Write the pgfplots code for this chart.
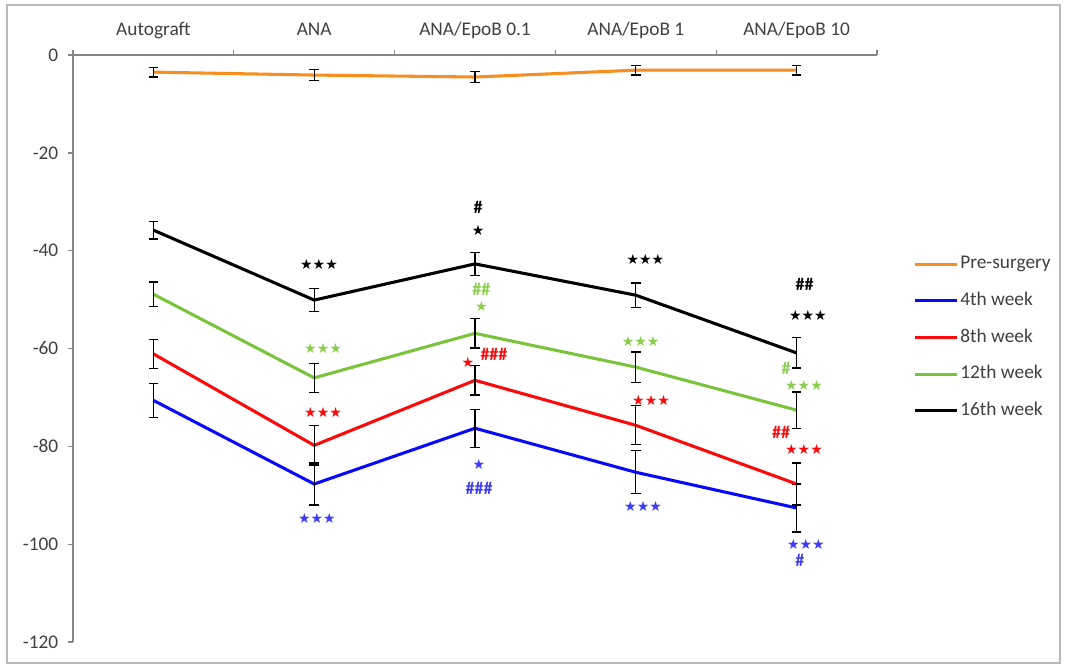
\documentclass[border=0pt]{standalone}
\usepackage{pgfplots}
\pgfplotsset{compat=1.18}
\usepackage{fontspec}
\setmainfont{Carlito}
\newfontfamily\symfont{DejaVu Sans}

\definecolor{preorange}{RGB}{247,142,30}
\definecolor{wkblue}{RGB}{10,10,250}
\definecolor{wkred}{RGB}{250,10,10}
\definecolor{wkgreen}{RGB}{122,196,60}
\definecolor{lblgreen}{RGB}{140,205,80}
\definecolor{lblblue}{RGB}{60,60,250}
\definecolor{axgray}{RGB}{134,134,134}
\definecolor{txtgray}{RGB}{64,64,64}

% significance marks
\newcommand{\stars}[1]{{\symfont\fontsize{10.5}{12}\selectfont #1}}
\newcommand{\hashes}[1]{{\bfseries\fontsize{13.5}{15}\selectfont #1}}

\begin{document}
\begin{tikzpicture}
\useasboundingbox (0pt,0pt) rectangle (798.75pt,-498.75pt);
\draw[gray!55, line width=1.3pt] (5.25pt,-3.75pt) rectangle (795pt,-497.25pt);
\begin{axis}[
  at={(54.75pt,-41.25pt)}, anchor=north west,
  scale only axis, width=603pt, height=440.25pt,
  xmin=-0.5, xmax=4.5, ymin=-120, ymax=0,
  axis x line*=top, axis y line*=left,
  axis line style={draw=axgray, line width=1.1pt},
  tick align=outside,
  major tick length=3.5pt,
  tick style={draw=axgray, line width=1pt},
  xtick={-0.5,0.5,1.5,2.5,3.5,4.5},
  xticklabels={Autograft,ANA,ANA/EpoB 0.1,ANA/EpoB 1,ANA/EpoB 10,{}},
  xticklabel style={anchor=base, xshift=60.3pt, yshift=11pt, font=\fontsize{14.5}{16}\selectfont, text=txtgray},
  ytick={-120,-100,-80,-60,-40,-20,0},
  yticklabels={-120,-100,-80,-60,-40,-20,0},
  yticklabel style={xshift=-4pt, font=\fontsize{14.5}{16}\selectfont, text=txtgray},
  legend style={draw=none, fill=none, at={(1.0448,0.5186)}, anchor=west,
    inner sep=0pt, row sep=11.5pt,
    font=\fontsize{14.5}{16}\selectfont, text=txtgray,
    nodes={inner sep=1.5pt, text height=10pt, text depth=3pt}},
  legend cell align=left,
  legend image code/.code={\draw[#1, line width=2.3pt] (0pt,0pt) -- (31.5pt,0pt);},
  clip=false,
]
% error bars with short horizontal caps
\pgfplotsset{errstyle/.style={mark=none,
  error bars/.cd, y dir=both, y explicit, error mark=|,
  error bar style={black, line width=0.9pt},
  error mark options={black, mark size=3.6pt, line width=0.9pt}}}

\addplot[preorange, line width=2.3pt, errstyle] table[x=x, y=y, y error=e] {
x y e
0 -3.5 1.0
1 -4.1 1.1
2 -4.5 1.1
3 -3.1 1.0
4 -3.1 1.0
};
\addlegendentry{Pre-surgery}

\addplot[wkblue, line width=2.3pt, errstyle] table[x=x, y=y, y error=e] {
x y e
0 -70.6 3.5
1 -87.7 4.3
2 -76.3 3.9
3 -85.3 4.4
4 -92.6 4.9
};
\addlegendentry{4th week}

\addplot[wkred, line width=2.3pt, errstyle] table[x=x, y=y, y error=e] {
x y e
0 -61.1 3.0
1 -79.8 4.0
2 -66.5 3.0
3 -75.7 4.0
4 -87.7 4.3
};
\addlegendentry{8th week}

\addplot[wkgreen, line width=2.3pt, errstyle] table[x=x, y=y, y error=e] {
x y e
0 -48.9 2.5
1 -66.0 3.0
2 -56.9 3.0
3 -63.8 3.1
4 -72.6 3.7
};
\addlegendentry{12th week}

\addplot[black, line width=2.3pt, errstyle] table[x=x, y=y, y error=e] {
x y e
0 -35.8 1.8
1 -50.1 2.3
2 -42.7 2.3
3 -49.1 2.5
4 -60.9 3.1
};
\addlegendentry{16th week}

% 16th week
\node[black] at (axis cs:1.03,-42.9) {\stars{★★★}};
\node[black] at (axis cs:2.02,-31.1) {\hashes{\#}};
\node[black] at (axis cs:2.02,-35.8) {\stars{★}};
\node[black] at (axis cs:3.06,-41.7) {\stars{★★★}};
\node[black] at (axis cs:4.05,-46.8) {\hashes{\#\#}};
\node[black] at (axis cs:4.07,-53.2) {\stars{★★★}};
% 12th week
\node[lblgreen] at (axis cs:1.055,-59.9) {\stars{★★★}};
\node[lblgreen] at (axis cs:2.04,-48.0) {\hashes{\#\#}};
\node[lblgreen] at (axis cs:2.04,-51.5) {\stars{★}};
\node[lblgreen] at (axis cs:3.03,-58.5) {\stars{★★★}};
\node[lblgreen] at (axis cs:3.934,-64.0) {\hashes{\#}};
\node[lblgreen] at (axis cs:4.046,-67.5) {\stars{★★★}};
% 8th week
\node[wkred] at (axis cs:1.055,-73.0) {\stars{★★★}};
\node[wkred] at (axis cs:1.956,-62.8) {\stars{★}};
\node[wkred] at (axis cs:2.118,-61.1) {\hashes{\#\#\#}};
\node[wkred] at (axis cs:3.095,-70.7) {\stars{★★★}};
\node[wkred] at (axis cs:3.903,-77.1) {\hashes{\#\#}};
\node[wkred] at (axis cs:4.046,-80.7) {\stars{★★★}};
% 4th week
\node[lblblue] at (axis cs:1.017,-94.7) {\stars{★★★}};
\node[lblblue] at (axis cs:2.025,-83.8) {\stars{★}};
\node[lblblue] at (axis cs:2.025,-88.5) {\hashes{\#\#\#}};
\node[lblblue] at (axis cs:3.045,-92.2) {\stars{★★★}};
\node[lblblue] at (axis cs:4.058,-100.0) {\stars{★★★}};
\node[lblblue] at (axis cs:4.02,-103.4) {\hashes{\#}};
\end{axis}
\end{tikzpicture}
\end{document}
